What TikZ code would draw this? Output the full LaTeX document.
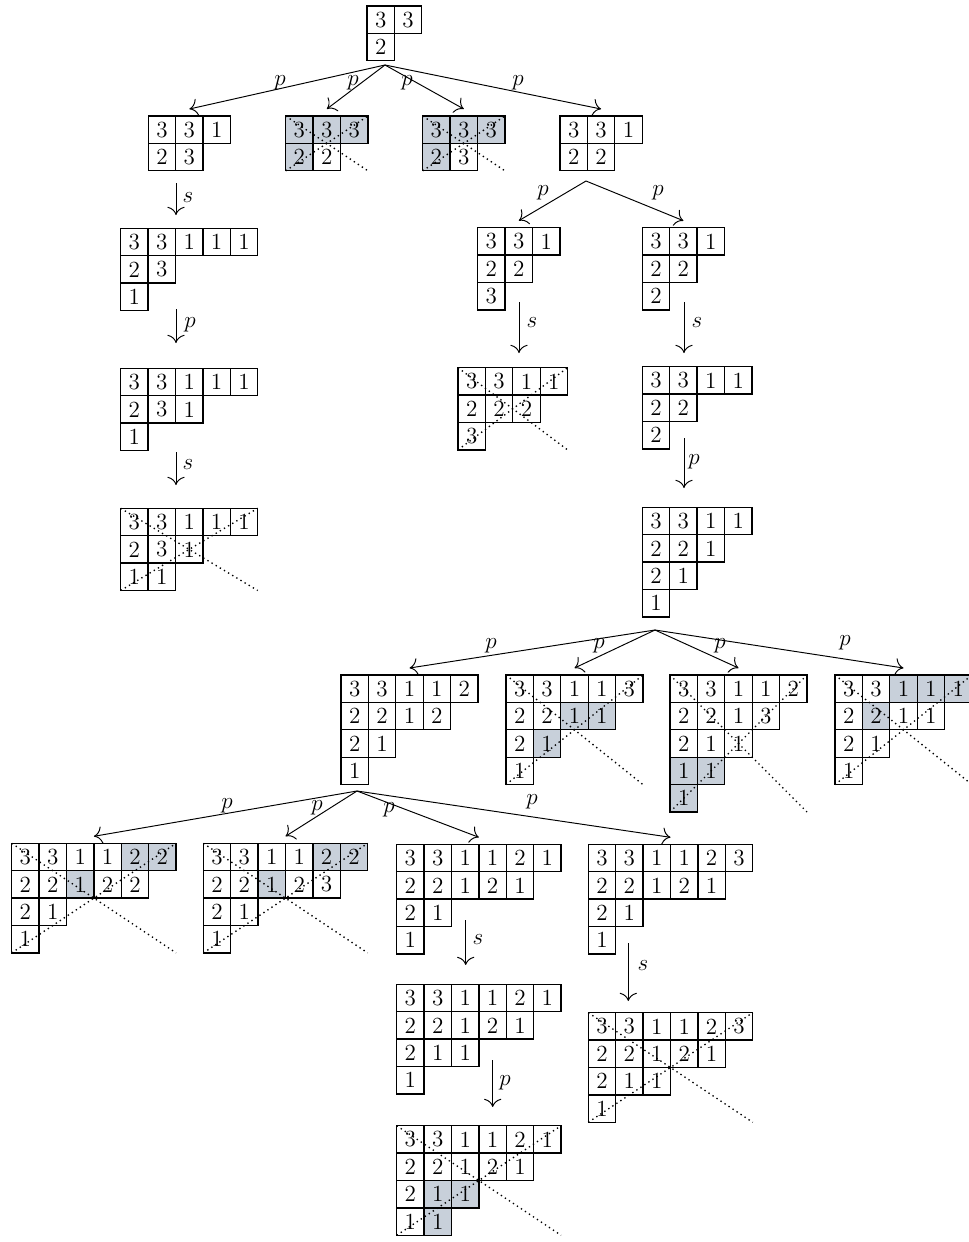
\documentclass[tikz,border=0pt]{standalone}
\usepackage{tikz}
\usetikzlibrary{calc,arrows.meta,backgrounds}
\definecolor{cellgray}{RGB}{200,208,218}
\tikzset{
  cell/.style={draw,line width=0.7pt,minimum size=0.5cm,inner sep=0pt,font=\fontsize{12}{14}\selectfont},
  xline/.style={line width=0.7pt,dash pattern=on 0.7pt off 1.8pt},
  lab/.style={font=\fontsize{13}{15}\selectfont,inner sep=1pt},
  arr/.style={-{To[length=1.5mm]},line width=0.5pt}
}
% tableau: name, top-left corner (px), columns, rows
\newcommand{\ytab}[4]{%
  \coordinate (#1) at (#2);
  \coordinate (#1-in) at ($(#1)+({13.7*#3},-7)$);
  \foreach \rw [count=\i] in {#4} {
    \foreach \e [count=\j] in \rw {
      \node[cell] (#1-\i-\j) at ($(#1)+({27.4*\j-13.7},{27.4*\i-13.7})$) {\e};}}}
% shaded cells (row-col)
\newcommand{\hlcells}[2]{%
  \begin{pgfonlayer}{background}
  \foreach \c in {#2} {\fill[cellgray] (#1-\c.north west) rectangle (#1-\c.south east);}
  \end{pgfonlayer}}
% dotted cross over the bounding box
\newcommand{\xcross}[3]{%
  \draw[xline] (#1) -- ++({27.4*#2},{27.4*#3});
  \draw[xline] ($(#1)+(0,{27.4*#3})$) -- ++({27.4*#2},{-27.4*#3});}

\begin{document}
\begin{tikzpicture}[x=0.018248cm,y=-0.018248cm]
\useasboundingbox (0,0) rectangle (968,1242);
% ---- root and first level ----
\ytab{T0}{367,6}{2}{{3,3},{2}}
\ytab{T1a}{148.3,116}{3}{{3,3,1},{2,3}}
\ytab{T1b}{285.7,116}{3}{{3,3,3},{2,2}}
\ytab{T1c}{422.7,116}{3}{{3,3,3},{2,3}}
\ytab{T1d}{560,116}{3}{{3,3,1},{2,2}}
\hlcells{T1b}{1-1,1-2,1-3,2-1}
\hlcells{T1c}{1-1,1-2,1-3,2-1}
\xcross{T1b}{3}{2}
\xcross{T1c}{3}{2}
\coordinate (T0-out) at (385,65);
\foreach \t in {T1a,T1b,T1c,T1d} \draw[arr] (T0-out) -- (\t-in);
\node[lab] (p1) at (280,83) {$p$};
\node[lab] (p2) at (353,83) {$p$};
\node[lab] (p3) at (407,83) {$p$};
\node[lab] (p4) at (518,83) {$p$};
% ---- left branch ----
\ytab{L1}{120.7,228.3}{5}{{3,3,1,1,1},{2,3},{1}}
\ytab{L2}{120.7,368.3}{5}{{3,3,1,1,1},{2,3,1},{1}}
\ytab{L3}{120.7,508.3}{5}{{3,3,1,1,1},{2,3,1},{1,1}}
\xcross{L3}{5}{3}
\coordinate (T1a-dn) at (176,183);  \coordinate (L1-up) at (176,215);
\coordinate (L1-dn) at (176,309);   \coordinate (L2-up) at (176,343);
\coordinate (L2-dn) at (176,452);   \coordinate (L3-up) at (176,485);
\draw[arr] (T1a-dn) -- (L1-up);
\draw[arr] (L1-dn) -- (L2-up);
\draw[arr] (L2-dn) -- (L3-up);
\node[lab] (s1) at (188,198) {$s$};
\node[lab] (p5) at (190,325) {$p$};
\node[lab] (s2) at (188,465) {$s$};
% ---- right branch ----
\ytab{M1}{477.7,227.7}{3}{{3,3,1},{2,2},{3}}
\ytab{M2}{458,367.7}{4}{{3,3,1,1},{2,2,2},{3}}
\ytab{R1}{642.3,227.7}{3}{{3,3,1},{2,2},{2}}
\ytab{R2}{642.3,366.7}{4}{{3,3,1,1},{2,2},{2}}
\ytab{R3}{642.3,507.3}{4}{{3,3,1,1},{2,2,1},{2,1},{1}}
\xcross{M2}{4}{3}
\coordinate (T1d-out) at (586,181);
\draw[arr] (T1d-out) -- (M1-in);
\draw[arr] (T1d-out) -- (R1-in);
\node[lab] (p6) at (543,193) {$p$};
\node[lab] (p7) at (658,193) {$p$};
\coordinate (M1-dn) at (519,302);   \coordinate (M2-up) at (519,353);
\coordinate (R1-dn) at (684,302);   \coordinate (R2-up) at (684,353);
\coordinate (R2-dn) at (684,438);   \coordinate (R3-up) at (684,488);
\draw[arr] (M1-dn) -- (M2-up);
\draw[arr] (R1-dn) -- (R2-up);
\draw[arr] (R2-dn) -- (R3-up);
\node[lab] (s3) at (532,323) {$s$};
\node[lab] (s4) at (697,323) {$s$};
\node[lab] (p8) at (694,462) {$p$};
% ---- children of R3 ----
\ytab{A}{341,675}{5}{{3,3,1,1,2},{2,2,1,2},{2,1},{1}}
\ytab{B}{506,675}{5}{{3,3,1,1,3},{2,2,1,1},{2,1},{1}}
\ytab{C}{670,675}{5}{{3,3,1,1,2},{2,2,1,3},{2,1,1},{1,1},{1}}
\ytab{D}{835,675}{5}{{3,3,1,1,1},{2,2,1,1},{2,1},{1}}
\hlcells{B}{2-3,2-4,3-2}
\hlcells{C}{4-1,4-2,5-1}
\hlcells{D}{1-3,1-4,1-5,2-2}
\xcross{B}{5}{4}
\xcross{C}{5}{5}
\xcross{D}{5}{4}
\coordinate (R3-out) at (655,630);
\foreach \t in {A,B,C,D} \draw[arr] (R3-out) -- (\t-in);
\node[lab] (p9) at (491,646) {$p$};
\node[lab] (p10) at (599,646) {$p$};
\node[lab] (p11) at (720,646) {$p$};
\node[lab] (p12) at (845,643) {$p$};
% ---- children of A ----
\ytab{E}{11.7,843.3}{6}{{3,3,1,1,2,2},{2,2,1,2,2},{2,1},{1}}
\ytab{F}{203.3,843.3}{6}{{3,3,1,1,2,2},{2,2,1,2,3},{2,1},{1}}
\ytab{I}{396.7,844.3}{6}{{3,3,1,1,2,1},{2,2,1,2,1},{2,1},{1}}
\ytab{J}{588.3,844.3}{6}{{3,3,1,1,2,3},{2,2,1,2,1},{2,1},{1}}
\hlcells{E}{1-5,1-6,2-3}
\hlcells{F}{1-5,1-6,2-3}
\xcross{E}{6}{4}
\xcross{F}{6}{4}
\coordinate (A-out) at (357,791);
\foreach \t in {E,F,I,J} \draw[arr] (A-out) -- (\t-in);
\node[lab] (p13) at (227,806) {$p$};
\node[lab] (p14) at (317,808) {$p$};
\node[lab] (p15) at (389,810) {$p$};
\node[lab] (p16) at (532,802) {$p$};
% ---- bottom ----
\ytab{K}{396.7,984.3}{6}{{3,3,1,1,2,1},{2,2,1,2,1},{2,1,1},{1}}
\ytab{H}{396.7,1125.7}{6}{{3,3,1,1,2,1},{2,2,1,2,1},{2,1,1},{1,1}}
\ytab{G}{588.3,1012.7}{6}{{3,3,1,1,2,3},{2,2,1,2,1},{2,1,1},{1}}
\hlcells{H}{3-2,3-3,4-2}
\xcross{H}{6}{4}
\xcross{G}{6}{4}
\coordinate (I-dn) at (465.7,920);  \coordinate (K-up) at (465.7,965);
\coordinate (K-dn) at (492.7,1060); \coordinate (H-up) at (492.7,1107);
\coordinate (J-dn) at (628.3,943);  \coordinate (G-up) at (628.3,1001);
\draw[arr] (I-dn) -- (K-up);
\draw[arr] (K-dn) -- (H-up);
\draw[arr] (J-dn) -- (G-up);
\node[lab] (s5) at (478,940) {$s$};
\node[lab] (p17) at (505,1083) {$p$};
\node[lab] (s6) at (643,966) {$s$};
\end{tikzpicture}
\end{document}
